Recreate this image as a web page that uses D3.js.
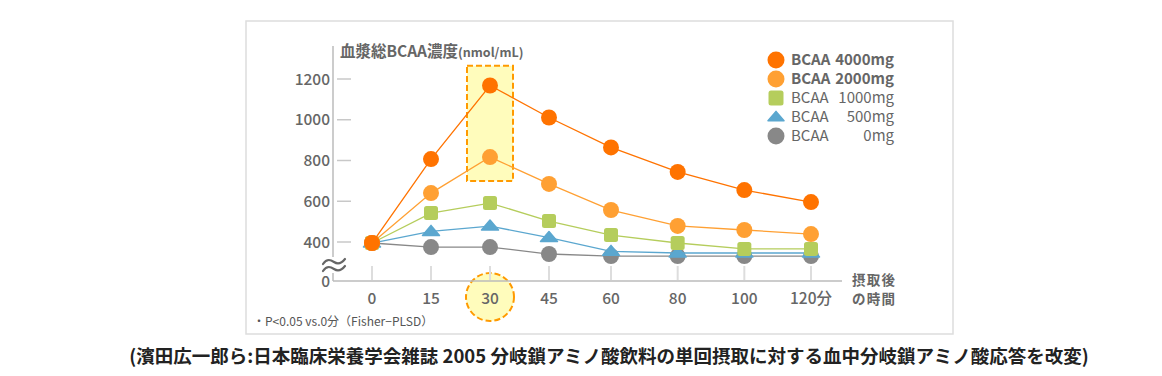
<!DOCTYPE html>
<html>
<head>
<meta charset="utf-8">
<script src="https://cdn.jsdelivr.net/npm/d3@7"></script>
<style>
  html, body { margin: 0; padding: 0; background: #fff; }
  svg { display: block; }
  text { font-family: "Noto Sans CJK JP", "Noto Sans", sans-serif; }
</style>
</head>
<body>
<div id="chart"></div>
<script>
// 血漿総BCAA濃度の推移 (BCAA 摂取量別)
const times = [0, 15, 30, 45, 60, 80, 100, 120];
const timeLabels = ["0", "15", "30", "45", "60", "80", "100", "120分"];
const yTicks = [400, 600, 800, 1000, 1200];

const bcaa0    = [395, 375, 375, 341, 331, 331, 331, 331];
const bcaa500  = [395, 452, 478, 422, 354, 346, 346, 346];
const bcaa1000 = [395, 542, 591, 503, 434, 395, 366, 366];
const bcaa2000 = [395, 640, 817, 685, 557, 479, 459, 439];
const bcaa4000 = [395, 807, 1168, 1011, 864, 744, 655, 596];

// 下から順に描く (4000mg が一番上)
const series = [
  { name: "BCAA", amount: "0mg",    values: bcaa0,    color: "#888888", shape: "circle",   bold: false },
  { name: "BCAA", amount: "500mg",  values: bcaa500,  color: "#5ba7cf", shape: "triangle", bold: false },
  { name: "BCAA", amount: "1000mg", values: bcaa1000, color: "#b5cd5c", shape: "square",   bold: false },
  { name: "BCAA", amount: "2000mg", values: bcaa2000, color: "#ffa033", shape: "circle",   bold: true },
  { name: "BCAA", amount: "4000mg", values: bcaa4000, color: "#ff7300", shape: "circle",   bold: true },
];

// 有意差の強調 (30分, 2000mg〜4000mg)
const highlightTime = 30;
const highlightRange = [700, 1265];

const W = 1162, H = 376;
const svg = d3.select("#chart").append("svg").attr("width", W).attr("height", H);

// 枠
svg.append("rect").attr("x", 246).attr("y", 21).attr("width", 707).attr("height", 313)
  .attr("fill", "#fff").attr("stroke", "#dddddd").attr("stroke-width", 1.5);

// x: 不等間隔 -> 区分線形
const x = d3.scaleLinear().domain([0, 45, 60, 120]).range([372, 549, 611, 811]);
// y: 0〜300 付近は省略 (波線), 軸の 0 は固定位置
const y = d3.scaleLinear().domain([400, 1200]).range([242, 79]);
const baseY = 281;

const g = svg.append("g");
const gray = "#666";

// 30分の強調枠
const hx = x(highlightTime);
g.append("rect")
  .attr("x", hx - 23).attr("width", 46)
  .attr("y", y(highlightRange[1])).attr("height", y(highlightRange[0]) - y(highlightRange[1]))
  .attr("fill", "#fffcbc").attr("stroke", "#ff9a00").attr("stroke-width", 2)
  .attr("stroke-dasharray", "6,3");
g.append("circle").attr("cx", hx).attr("cy", 297).attr("r", 24)
  .attr("fill", "#fffcbc").attr("stroke", "#ff9a00").attr("stroke-width", 2)
  .attr("stroke-dasharray", "6,3");

// 軸
g.append("line").attr("x1", 333).attr("x2", 333).attr("y1", 46).attr("y2", baseY)
  .attr("stroke", "#bbbbbb").attr("stroke-width", 1.5);
g.append("line").attr("x1", 333).attr("x2", 842).attr("y1", baseY).attr("y2", baseY)
  .attr("stroke", "#bbbbbb").attr("stroke-width", 1.5);

g.selectAll(".ytick").data(yTicks).join("line").attr("class", "ytick")
  .attr("x1", 337).attr("x2", 351).attr("y1", (d) => y(d)).attr("y2", (d) => y(d))
  .attr("stroke", "#c8c8c8").attr("stroke-width", 1.5);
g.selectAll(".ylab").data([0, ...yTicks]).join("text").attr("class", "ylab")
  .attr("x", 330).attr("y", (d) => (d === 0 ? baseY : y(d))).attr("dy", "0.36em")
  .attr("text-anchor", "end").attr("font-size", 15.5).attr("font-weight", 500)
  .attr("fill", gray).text((d) => d);

g.selectAll(".xtick").data(times).join("line").attr("class", "xtick")
  .attr("x1", (d) => x(d)).attr("x2", (d) => x(d)).attr("y1", 266).attr("y2", baseY - 1)
  .attr("stroke", "#dddddd").attr("stroke-width", 2);
g.selectAll(".xlab").data(times).join("text").attr("class", "xlab")
  .attr("x", (d) => x(d)).attr("y", 298).attr("dy", "0.36em")
  .attr("text-anchor", "middle").attr("font-size", 15.5).attr("font-weight", 500)
  .attr("fill", gray).text((d, i) => timeLabels[i]);

// 省略記号 (波線2本)
g.append("rect").attr("x", 322).attr("y", 257).attr("width", 24).attr("height", 16).attr("fill", "#fff");
const wave = (oy) => `M323,${oy + 2}C327,${oy - 4} 331,${oy - 2} 334,${oy}S341,${oy + 2} 345,${oy - 3}`;
[262, 269].forEach((oy) => {
  g.append("path").attr("d", wave(oy)).attr("fill", "none")
    .attr("stroke", gray).attr("stroke-width", 2.2).attr("stroke-linecap", "round");
});

// 軸タイトル
const yt = g.append("text").attr("x", 340).attr("y", 57).attr("fill", gray);
yt.append("tspan").attr("font-size", 15.5).attr("font-weight", "bold").text("血漿総BCAA濃度");
yt.append("tspan").attr("font-size", 12.5).attr("font-weight", "bold").text("(nmol/mL)");

g.selectAll(".xtitle").data(["摂取後", "の時間"]).join("text").attr("class", "xtitle")
  .attr("x", 852).attr("y", (d, i) => 280 + i * 19.5).attr("dy", "0.36em")
  .attr("font-size", 13.5).attr("font-weight", "bold").attr("fill", gray)
  .attr("textLength", 43).attr("lengthAdjust", "spacing").text((d) => d);

// 注記
g.append("text").attr("x", 253).attr("y", 322).attr("dy", "0.36em")
  .attr("font-size", 12).attr("fill", "#555").text("・P<0.05 vs.0分（Fisher−PLSD）");

// マーカー
function drawMarker(sel, shape, color, size) {
  if (shape === "circle") {
    sel.append("circle").attr("r", size).attr("fill", color);
  } else if (shape === "square") {
    sel.append("rect").attr("x", -size + 1).attr("y", -size + 1)
      .attr("width", 2 * size - 2).attr("height", 2 * size - 2).attr("rx", 2.5).attr("fill", color);
  } else {
    const w = size + 0.5, h = size * 1.25;
    sel.append("path").attr("d", `M0,${-h * 0.6}L${w},${h * 0.4}L${-w},${h * 0.4}Z`)
      .attr("fill", color).attr("stroke", color).attr("stroke-width", 1.5).attr("stroke-linejoin", "round");
  }
}

const line = d3.line().x((d, i) => x(times[i])).y((d) => y(d));
series.forEach((s) => {
  const sg = g.append("g");
  sg.append("path").datum(s.values).attr("d", line)
    .attr("fill", "none").attr("stroke", s.color).attr("stroke-width", 1.3);
  sg.selectAll(".pt").data(s.values).join("g").attr("class", "pt")
    .attr("transform", (d, i) => `translate(${x(times[i])},${y(d)})`)
    .each(function () { drawMarker(d3.select(this), s.shape, s.color, 8); });
});

// 凡例 (上から 4000mg)
const legend = g.append("g");
series.slice().reverse().forEach((s, i) => {
  const ly = 60 + i * 19;
  const m = legend.append("g").attr("transform", `translate(776,${ly})`);
  drawMarker(m, s.shape, s.color, s.shape === "triangle" ? 7.5 : 8.5);
  legend.append("text").attr("x", 791).attr("y", ly).attr("dy", "0.36em")
    .attr("font-size", 15).attr("font-weight", s.bold ? "bold" : "normal")
    .attr("fill", gray).text(s.name);
  legend.append("text").attr("x", 894).attr("y", ly).attr("dy", "0.36em").attr("text-anchor", "end")
    .attr("font-size", 15).attr("font-weight", s.bold ? "bold" : "normal")
    .attr("fill", gray).text(s.amount);
});

// 出典
svg.append("text").attr("x", 609).attr("y", 356).attr("dy", "0.36em").attr("text-anchor", "middle")
  .attr("font-size", 18.5).attr("font-weight", "bold").attr("fill", "#222")
  .text("(濱田広一郎ら:日本臨床栄養学会雑誌 2005 分岐鎖アミノ酸飲料の単回摂取に対する血中分岐鎖アミノ酸応答を改変)");
</script>
</body>
</html>
